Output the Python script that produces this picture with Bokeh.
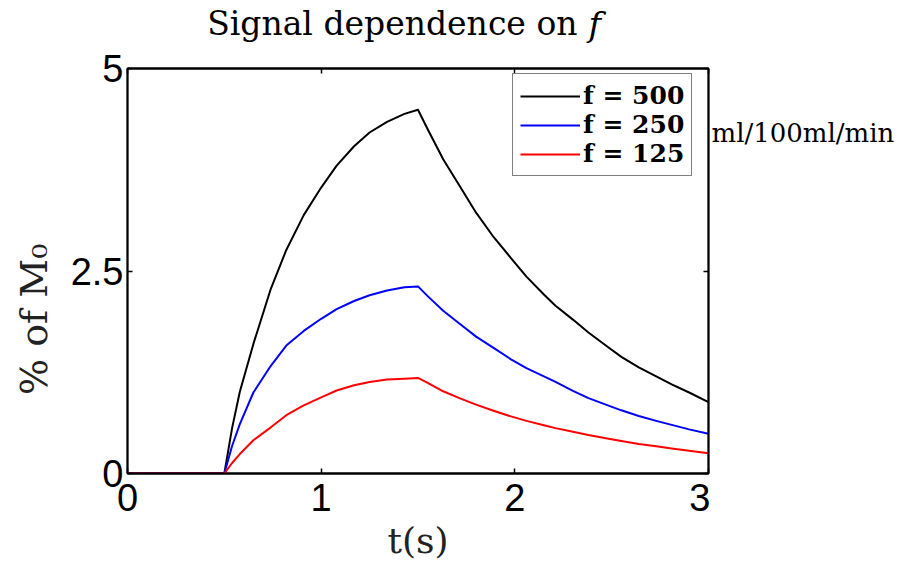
from bokeh.plotting import figure
from bokeh.models import LinearAxis, Range1d, FixedTicker, Legend, LegendItem
from bokeh.layouts import column, row
from bokeh.core.properties import value
from bokeh.embed import file_html
from bokeh.resources import INLINE

# time points (s)
t = [0.0, 0.5, 0.54, 0.58, 0.65, 0.74, 0.82, 0.91, 1.0, 1.08, 1.17, 1.25, 1.34, 1.43, 1.5,
     1.55, 1.63, 1.72, 1.80, 1.89, 1.98, 2.06, 2.15, 2.21, 2.30, 2.38, 2.47, 2.55, 2.64,
     2.73, 2.81, 2.90, 3.0]
# % of M0 for f = 500, 250, 125 ml/100ml/min
f500 = [0.0, 0.0, 0.56, 1.01, 1.60, 2.28, 2.76, 3.19, 3.53, 3.80, 4.04, 4.21, 4.34, 4.44, 4.49,
        4.25, 3.88, 3.53, 3.22, 2.92, 2.66, 2.43, 2.21, 2.07, 1.90, 1.74, 1.58, 1.44, 1.31,
        1.20, 1.10, 1.00, 0.88]
f250 = [0.0, 0.0, 0.34, 0.61, 1.00, 1.33, 1.58, 1.76, 1.91, 2.03, 2.13, 2.20, 2.26, 2.30, 2.31,
        2.19, 2.01, 1.84, 1.69, 1.55, 1.41, 1.30, 1.20, 1.13, 1.02, 0.93, 0.85, 0.78, 0.71,
        0.65, 0.60, 0.545, 0.49]
f125 = [0.0, 0.0, 0.13, 0.24, 0.41, 0.57, 0.72, 0.84, 0.94, 1.025, 1.09, 1.13, 1.16, 1.17, 1.18,
        1.12, 1.015, 0.925, 0.85, 0.775, 0.705, 0.65, 0.595, 0.56, 0.515, 0.475, 0.435, 0.40,
        0.365, 0.335, 0.31, 0.28, 0.25]

series_labels = ["f = 500", "f = 250", "f = 125"]
series_colors = ["#000000", "#0000ff", "#ff0000"]
x_ticks = [0, 1, 2, 3]
y_ticks = [0, 2.5, 5]
title_parts = ["Signal dependence on", "f"]
unit_text = ["ml/100ml/min"]
x_label = "t(s)"
y_label = "% of M₀"

SERIF = "DejaVu Serif"
SANS = "Liberation Sans"

TITLE_H = 44
TOP_B = 24
BOT_B = 95

def blank_fig(w, h):
    f = figure(width=w, height=h, min_border=0, x_range=Range1d(0, w), y_range=Range1d(h, 0),
               output_backend="svg", toolbar_location=None, tools="")
    f.axis.visible = False
    f.grid.visible = False
    f.outline_line_color = None
    f.background_fill_color = "white"
    f.border_fill_color = "white"
    return f

# ---- title strip ----
tf = blank_fig(900, TITLE_H)
tf.text(x=[577], y=[23], text=[title_parts[0]], text_align="right", text_baseline="middle",
        text_font=value(SERIF), text_font_size="33px", text_color="black")
tf.text(x=[588], y=[23], text=[title_parts[1]], text_align="left", text_baseline="middle",
        text_font=value(SERIF), text_font_size="34px", text_font_style="italic",
        text_color="black")

# ---- main plot ----
p = figure(frame_width=581, frame_height=405,
           min_border_left=127, min_border_right=2, min_border_top=TOP_B,
           min_border_bottom=BOT_B,
           x_range=Range1d(0, 3), y_range=Range1d(0, 5),
           output_backend="svg", toolbar_location=None, tools="")
p.xgrid.visible = False
p.ygrid.visible = False
p.outline_line_color = "black"
p.outline_line_width = 1.8
p.background_fill_color = "white"
p.border_fill_color = "white"

items = []
for ys, lab, col in zip([f500, f250, f125], series_labels, series_colors):
    r = p.line(t, ys, line_color=col, line_width=2, line_join="round")
    items.append(LegendItem(label=lab, renderers=[r]))

def style_axis(ax, ticks, labels=True):
    ax.axis_line_width = 1.8
    ax.major_tick_in = 5
    ax.major_tick_out = 0
    ax.minor_tick_line_color = None
    ax.major_tick_line_width = 1.5
    if labels:
        ax.major_label_text_font = SANS
        ax.major_label_text_font_size = "38px"
        ax.major_label_text_color = "black"
        ax.axis_label_text_font = SERIF
        ax.axis_label_text_font_style = "normal"
        ax.axis_label_text_color = "#222222"
    else:
        ax.major_label_overrides = {tk: "" for tk in ticks}
        ax.major_label_standoff = 0

p.xaxis.ticker = FixedTicker(ticks=x_ticks)
p.yaxis.ticker = FixedTicker(ticks=y_ticks)
p.xaxis.axis_label = x_label
p.yaxis.axis_label = y_label + "\u00a0" * 8
style_axis(p.xaxis[0], x_ticks)
style_axis(p.yaxis[0], y_ticks)
p.xaxis.axis_label_text_font_size = "36px"
p.yaxis.axis_label_text_font_size = "38px"
p.xaxis.major_label_standoff = 10
p.yaxis.major_label_standoff = 4
p.xaxis.axis_label_standoff = 6
p.yaxis.axis_label_standoff = 12

top = LinearAxis(ticker=FixedTicker(ticks=x_ticks))
right = LinearAxis(ticker=FixedTicker(ticks=y_ticks))
style_axis(top, x_ticks, labels=False)
style_axis(right, y_ticks, labels=False)
p.add_layout(top, "above")
p.add_layout(right, "right")

legend = Legend(items=items, location=(385, 297),
                label_text_font=SERIF, label_text_font_style="bold",
                label_text_font_size="25px", label_text_color="black",
                label_height=26, glyph_width=60,
                glyph_height=26, label_standoff=3, spacing=0, padding=7, margin=0,
                border_line_color="black", border_line_width=1.8,
                background_fill_alpha=1.0)
p.add_layout(legend, "center")

# ---- right strip with units ----
sf = blank_fig(190, TOP_B + 405 + BOT_B)
sf.text(x=[1], y=[127 - TITLE_H], text=unit_text, text_align="left", text_baseline="middle",
        text_font=value(SERIF), text_font_size="26px", text_color="black")

layout = column(tf, row(p, sf))
open("out.html", "w").write(file_html(layout, INLINE))
